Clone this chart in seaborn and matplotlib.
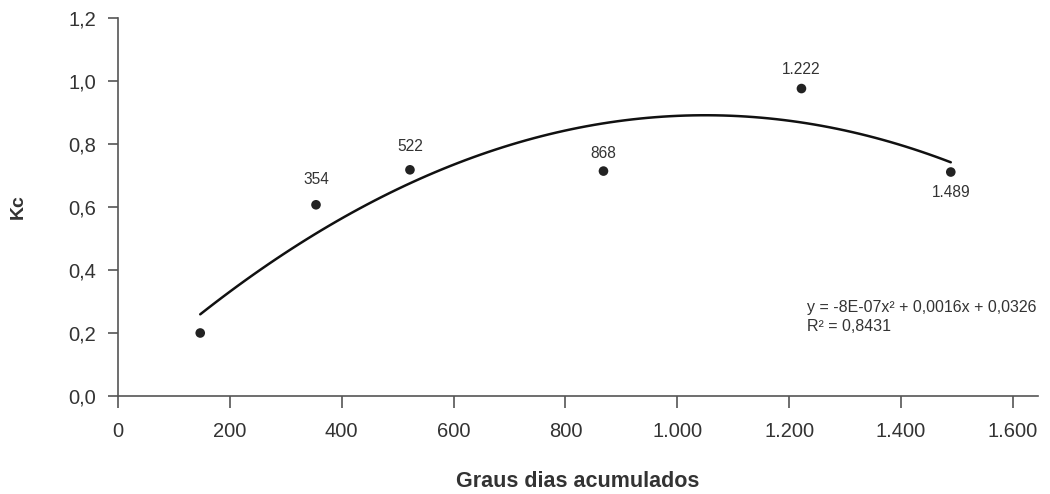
import numpy as np
import pandas as pd
import matplotlib
matplotlib.use("Agg")
import matplotlib.pyplot as plt
import seaborn as sns
from matplotlib.ticker import FuncFormatter, MultipleLocator

# data
graus_dias = [147, 354, 522, 868, 1222, 1489]
kc = [0.20, 0.607, 0.718, 0.714, 0.976, 0.711]
point_labels = ["", "354", "522", "868", "1.222", "1.489"]
equation = "y = -8E-07x\u00b2 + 0,0016x + 0,0326"
r2_text = "R\u00b2 = 0,8431"

df = pd.DataFrame({"gd": graus_dias, "kc": kc})

sns.set_style("white")
plt.rcParams["font.family"] = ["Liberation Sans", "DejaVu Sans"]

text_col = "#333333"
fig = plt.figure(figsize=(10.5, 4.94), dpi=100)
ax = fig.add_axes([0.1124, 0.1984, 0.8762, 0.7652])

# quadratic trend line (least squares, 2nd order)
sns.regplot(data=df, x="gd", y="kc", order=2, ci=None, scatter=False,
            truncate=True, ax=ax, line_kws={"color": "#111111", "lw": 1.8})
sns.scatterplot(data=df, x="gd", y="kc", ax=ax, color="#222222", s=48,
                edgecolor="none", zorder=3)

# label offsets in points (labels were placed by hand in the original)
label_off = [0, 18.5, 16.5, 13, 14, -15]
for x, y, lab, off in zip(graus_dias, kc, point_labels, label_off):
    if not lab:
        continue
    ax.annotate(lab, (x, y), xytext=(0, off), textcoords="offset points",
                ha="center", va="center", fontsize=11.2, color=text_col)

ax.text(0.749, 0.235, equation, transform=ax.transAxes, fontsize=11.5,
        color=text_col, va="center")
ax.text(0.749, 0.185, r2_text, transform=ax.transAxes, fontsize=11.5,
        color=text_col, va="center")

ax.set_xlim(0, 1645)
ax.set_ylim(0, 1.2)
ax.xaxis.set_major_locator(MultipleLocator(200))
ax.yaxis.set_major_locator(MultipleLocator(0.2))
ax.xaxis.set_major_formatter(FuncFormatter(lambda v, p: f"{v:,.0f}".replace(",", ".")))
ax.yaxis.set_major_formatter(FuncFormatter(lambda v, p: f"{v:.1f}".replace(".", ",")))

for s in ["top", "right"]:
    ax.spines[s].set_visible(False)
for s in ["left", "bottom"]:
    ax.spines[s].set_color("#555555")
    ax.spines[s].set_linewidth(1.2)

ax.tick_params(axis="x", direction="out", length=8.5, width=1.2, color="#555555",
               labelsize=14.5, labelcolor=text_col, pad=10)
ax.tick_params(axis="y", direction="out", length=7, width=1.2, color="#555555",
               labelsize=14.5, labelcolor=text_col, pad=8.5)
ax.tick_params(bottom=True, left=True)

ax.set_xlabel("Graus dias acumulados", fontsize=15.5, fontweight="bold",
              color=text_col, labelpad=22)
ax.set_ylabel("Kc", fontsize=14, fontweight="bold", color=text_col, labelpad=30)

fig.savefig("out.png", dpi=100)
